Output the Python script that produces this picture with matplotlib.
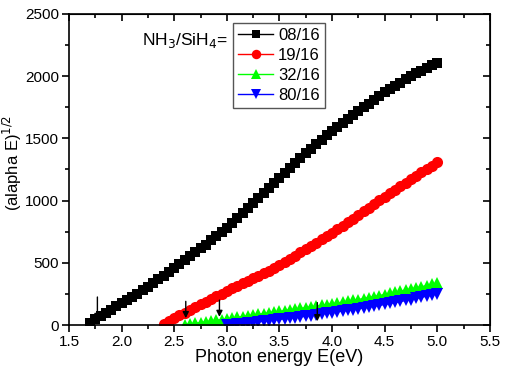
import numpy as np
import matplotlib.pyplot as plt

plt.rcParams['font.family'] = ['Liberation Sans', 'DejaVu Sans']

# photon energy grids (eV), 0.05 eV steps
e_0816 = np.round(np.arange(1.70, 5.001, 0.05), 2)
e_1916 = np.round(np.arange(2.40, 5.001, 0.05), 2)
e_3216 = np.round(np.arange(2.60, 5.001, 0.05), 2)
e_8016 = np.round(np.arange(3.00, 5.001, 0.05), 2)

# (alpha E)^1/2
y_0816 = [20, 45, 72, 98, 124, 150, 175, 201, 227, 253, 279, 305, 335, 366, 397, 429,
          460, 491, 522, 553, 584, 615, 647, 680, 713, 746, 780, 820, 860, 900, 940,
          980, 1020, 1060, 1100, 1140, 1180, 1220, 1260, 1300, 1340, 1380, 1417, 1453,
          1489, 1525, 1560, 1593, 1625, 1657, 1689, 1720, 1750, 1780, 1810, 1840, 1870,
          1896, 1922, 1948, 1974, 2000, 2022, 2044, 2066, 2088, 2110]
y_1916 = [12, 33, 55, 77, 99, 121, 143, 165, 187, 209, 231, 253, 275, 295, 315, 335,
          355, 375, 396, 417, 438, 459, 480, 506, 532, 558, 584, 610, 636, 662, 688,
          714, 740, 769, 798, 827, 856, 885, 914, 943, 972, 1001, 1030, 1058, 1086,
          1114, 1142, 1170, 1198, 1226, 1254, 1282, 1310]
y_3216 = [3, 9, 14, 20, 26, 32, 38, 44, 50, 56, 62, 68, 74, 80, 86, 92, 98, 104, 110,
          116, 122, 128, 134, 140, 146, 152, 158, 164, 170, 177, 184, 191, 198, 205,
          213, 221, 229, 237, 245, 254, 263, 272, 281, 290, 299, 308, 317, 326, 335]
y_8016 = [0, 4, 8, 12, 16, 20, 25, 30, 35, 40, 45, 50, 55, 60, 65, 70, 76, 82, 88, 94,
          100, 106, 112, 118, 124, 130, 137, 144, 151, 158, 165, 173, 181, 189, 197,
          205, 214, 223, 232, 241, 250]

# band-gap arrows: x position, top and bottom of arrow
arrow_x = [1.77, 2.61, 2.93, 3.86]
arrow_top = [225, 190, 200, 180]
arrow_bot = [40, 55, 65, 30]

fig = plt.figure(figsize=(5.05, 3.74), dpi=100)
ax = fig.add_axes([0.1366, 0.131, 0.8334, 0.8316])

ax.plot(e_0816, y_0816, color='black', marker='s', ms=7, mew=0, lw=1, label='08/16')
ax.plot(e_1916, y_1916, color='#ff0000', marker='o', ms=8, mew=0, lw=1, label='19/16')
ax.plot(e_3216, y_3216, color='#00ff00', marker='^', ms=8, mew=0, lw=1, label='32/16')
ax.plot(e_8016, y_8016, color='#0000ff', marker='v', ms=8, mew=0, lw=1, label='80/16')

for x, t, b in zip(arrow_x, arrow_top, arrow_bot):
    ax.annotate('', xy=(x, b), xytext=(x, t),
                arrowprops=dict(arrowstyle='-|>', color='black', lw=1.0,
                                mutation_scale=9, shrinkA=0, shrinkB=0))

ax.set_xlim(1.5, 5.5)
ax.set_ylim(0, 2500)
ax.set_xticks(np.arange(1.5, 5.51, 0.5))
ax.set_xticks(np.arange(1.75, 5.5, 0.5), minor=True)
ax.set_yticks(np.arange(0, 2501, 500))
ax.set_yticks(np.arange(250, 2500, 500), minor=True)
ax.xaxis.set_major_formatter(plt.FormatStrFormatter('%.1f'))

ax.tick_params(which='both', direction='out', labelsize=11, width=1.2,
               top=False, right=False, pad=2)
ax.tick_params(which='major', length=5)
ax.tick_params(which='minor', length=3)
sec_x = ax.secondary_xaxis('top')
sec_x.set_xticks(np.arange(1.5, 5.51, 0.5))
sec_x.set_xticks(np.arange(1.75, 5.5, 0.5), minor=True)
sec_x.tick_params(which='both', direction='in', labeltop=False, width=1.2)
sec_x.tick_params(which='major', length=5)
sec_x.tick_params(which='minor', length=3)
sec_y = ax.secondary_yaxis('right')
sec_y.set_yticks(np.arange(0, 2501, 500))
sec_y.set_yticks(np.arange(250, 2500, 500), minor=True)
sec_y.tick_params(which='both', direction='in', labelright=False, width=1.2)
sec_y.tick_params(which='major', length=5)
sec_y.tick_params(which='minor', length=3)
for s in ax.spines.values():
    s.set_linewidth(1.2)

ax.set_xlabel('Photon energy E(eV)', fontsize=13, labelpad=0)
ax.set_ylabel('(alapha E)$^{1/2}$', fontsize=12)
ax.yaxis.set_label_coords(-0.108, 0.52)

leg = ax.legend(loc='upper left', bbox_to_anchor=(0.39, 0.97), fontsize=12,
                frameon=True, fancybox=False, framealpha=1, edgecolor='#555555',
                handlelength=2.1, handletextpad=0.3, borderpad=0.3,
                labelspacing=0.3, borderaxespad=0, markerscale=0.85)
leg.get_frame().set_linewidth(1.0)

ax.text(0.378, 0.915, 'NH$_3$/SiH$_4$=', transform=ax.transAxes, ha='right',
        va='center', fontsize=12.5)

fig.savefig('out.png', dpi=100)
